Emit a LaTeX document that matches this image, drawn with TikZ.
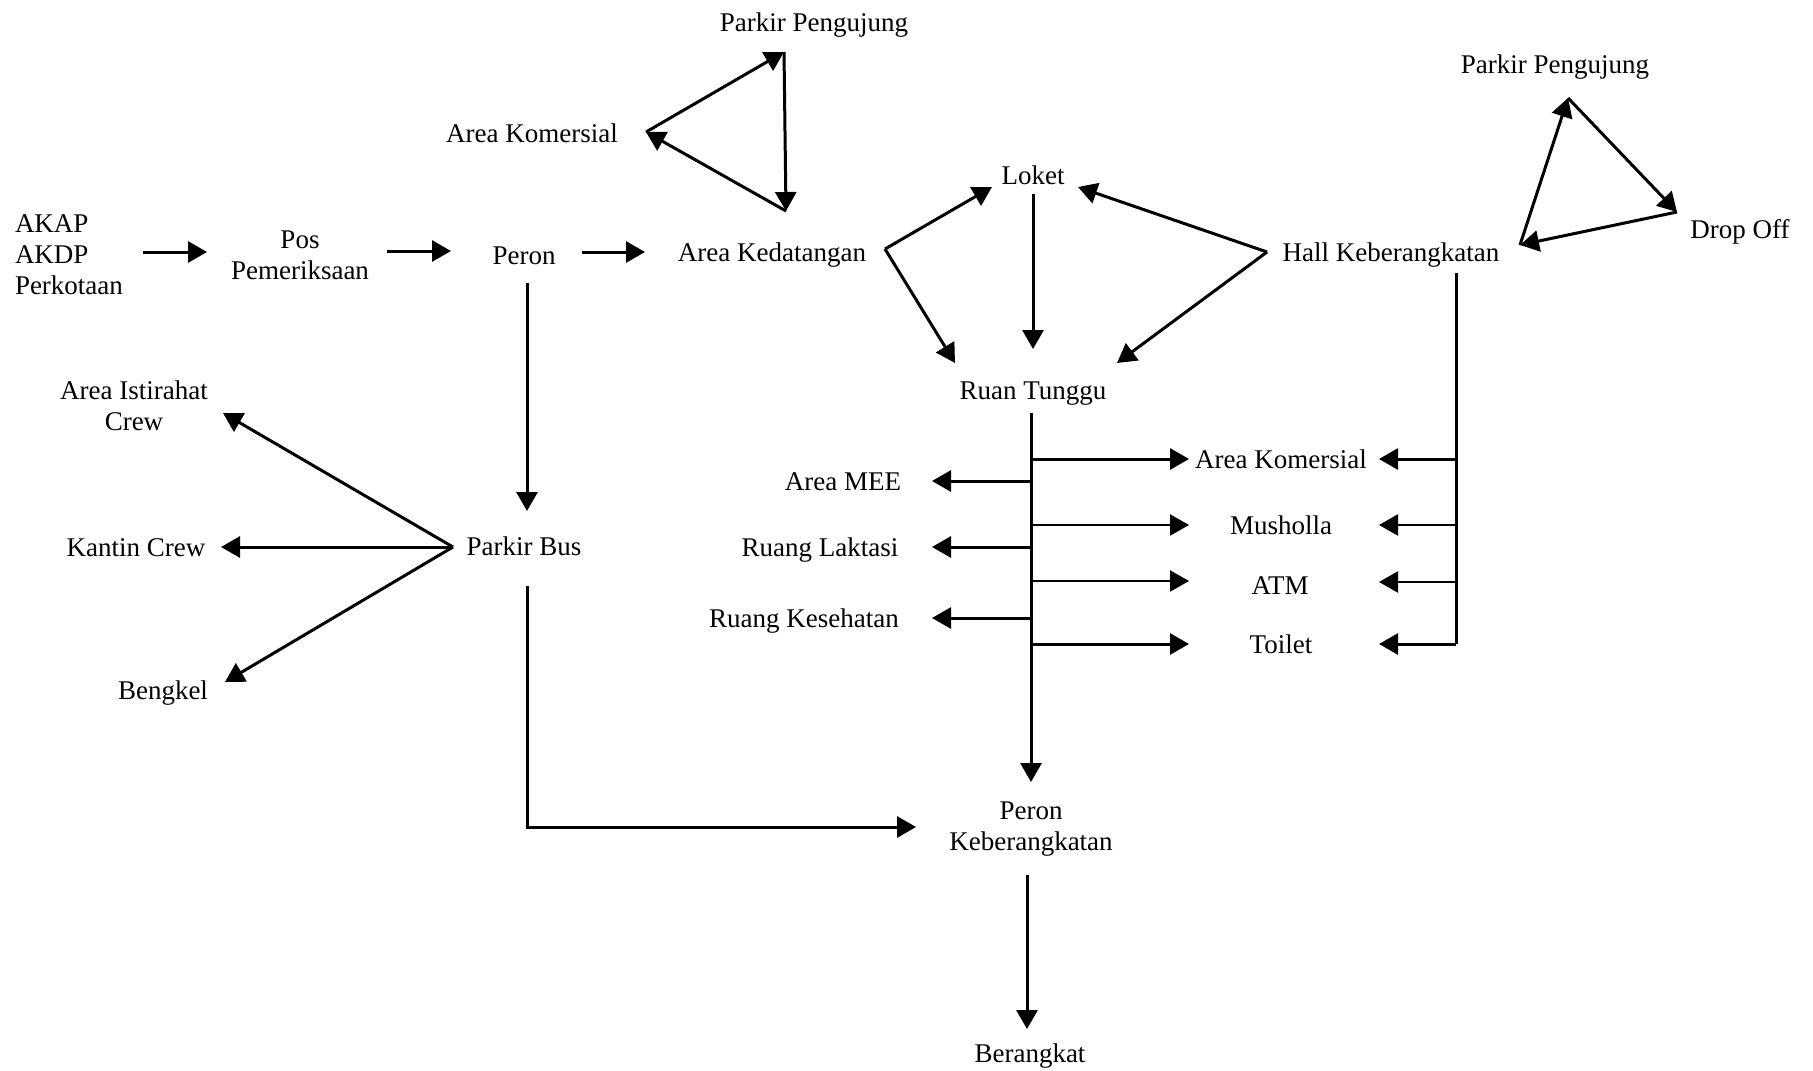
\documentclass[tikz,border=0pt]{standalone}
\usepackage{fontspec}
\setmainfont{Liberation Serif}
\usetikzlibrary{arrows.meta}
\begin{document}
\begin{tikzpicture}[x=1pt,y=-1pt,
  lbl/.style={inner sep=0pt,outer sep=0pt,align=center,
    font=\fontsize{27pt}{31pt}\selectfont},
  one/.style={lbl,text height=19pt,text depth=0pt},
  flow/.style={line width=3pt,-{Triangle[length=19pt,width=21pt]}},
  thinflow/.style={line width=2.3pt,-{Triangle[length=19pt,width=21pt]}},
  plain/.style={line width=3pt}]
\useasboundingbox (0,0) rectangle (1813,1071);

% ---- entry chain ----
\node[lbl,anchor=west,align=left] (akap) at (15,255) {AKAP\\AKDP\\Perkotaan};
\node[lbl] (pos) at (300,255) {Pos\\Pemeriksaan};
\node[one] (peron) at (524,255) {Peron};
\node[one] (kedatangan) at (772,252) {Area Kedatangan};
\node[one] (komA) at (532,133) {Area Komersial};
\node[one] (ppA) at (814,22) {Parkir Pengujung};

% ---- central hall ----
\node[one] (loket) at (1033,175) {Loket};
\node[one] (hall) at (1391,252) {Hall Keberangkatan};
\node[one] (ppB) at (1555,64) {Parkir Pengujung};
\node[one] (dropoff) at (1740,229) {Drop Off};
\node[one] (tunggu) at (1033,390) {Ruan Tunggu};

% ---- facilities ----
\node[one] (mee) at (843,481) {Area MEE};
\node[one] (laktasi) at (820,547) {Ruang Laktasi};
\node[one] (kesehatan) at (804,618) {Ruang Kesehatan};
\node[one] (komB) at (1281,459) {Area Komersial};
\node[one] (musholla) at (1281,525) {Musholla};
\node[one] (atm) at (1280,585) {ATM};
\node[one] (toilet) at (1281,644) {Toilet};

% ---- bus side ----
\node[lbl] (istirahat) at (134,406) {Area Istirahat\\Crew};
\node[one] (kantin) at (136,547) {Kantin Crew};
\node[one] (bengkel) at (163,690) {Bengkel};
\node[one] (bus) at (524,546) {Parkir Bus};
\node[lbl] (peronK) at (1031,829) {Peron\\Keberangkatan};
\node[one] (berangkat) at (1030,1053) {Berangkat};

% ---- junction points ----
\coordinate (j1) at ([shift={(113,-3)}]kedatangan.center);
\coordinate (j2) at ([shift={(-124,0)}]hall.center);
\coordinate (j3) at ([shift={(-71,1)}]bus.center);
\coordinate (tA) at ([shift={(-2,23)}]tunggu.center);
\coordinate (hA) at ([shift={(65,21)}]hall.center);
\coordinate (bA) at ([shift={(3,40)}]bus.center);
\coordinate (atmL) at ([shift={(-91,-4)}]atm.center);
\coordinate (atmR) at ([shift={(99,-3)}]atm.center);
\coordinate (triAL) at ([shift={(114,-1)}]komA.center);
\coordinate (triAT) at ([shift={(-30,30)}]ppA.center);
\coordinate (triAB) at ([shift={(14,-41)}]kedatangan.center);
\coordinate (triBT) at ([shift={(13,34)}]ppB.center);
\coordinate (triBR) at ([shift={(-63,-17)}]dropoff.center);
\coordinate (triBL) at ([shift={(129,-7)}]hall.center);

% ---- entry chain arrows ----
\draw[flow] ([shift={(128,-3)}]akap.west) -- ([shift={(-93,-3)}]pos.center);
\draw[flow] ([shift={(87,-4)}]pos.center) -- ([shift={(-73,-4)}]peron.center);
\draw[flow] ([shift={(58,-3)}]peron.center) -- ([shift={(-127,0)}]kedatangan.center);
\draw[flow] ([shift={(3,28)}]peron.center) -- ([shift={(3,-35)}]bus.center);

% ---- visitor parking loop (arrival side) ----
\draw[flow] (triAL) -- (triAT);
\draw[flow] (triAT) -- (triAB);
\draw[flow] (triAB) -- (triAL);

% ---- visitor parking loop (departure side) ----
\draw[flow] (triBL) -- (triBT);
\draw[flow] (triBT) -- (triBR);
\draw[flow] (triBR) -- (triBL);

% ---- to ticket counter and waiting room ----
\draw[flow] (j1) -- ([shift={(-41,12)}]loket.center);
\draw[flow] (j1) -- ([shift={(-78,-27)}]tunggu.center);
\draw[flow] ([shift={(0,19)}]loket.center) -- ([shift={(0,-41)}]tunggu.center);
\draw[flow] (j2) -- ([shift={(45,12)}]loket.center);
\draw[flow] (j2) -- ([shift={(84,-27)}]tunggu.center);

% ---- waiting room trunk ----
\draw[flow] (tA) -- ([shift={(0,-47)}]peronK.center);
\draw[flow] (tA |- komB) -- ([shift={(-92,0)}]komB.center);
\draw[thinflow] (tA |- musholla) -- ([shift={(-92,0)}]musholla.center);
\draw[thinflow] (tA |- atmL) -- (atmL);
\draw[flow] (tA |- toilet) -- ([shift={(-92,0)}]toilet.center);
\draw[flow] (tA |- mee) -- ([shift={(89,0)}]mee.center);
\draw[flow] (tA |- laktasi) -- ([shift={(112,0)}]laktasi.center);
\draw[flow] (tA |- kesehatan) -- ([shift={(128,0)}]kesehatan.center);

% ---- departure hall trunk ----
\draw[plain] (hA) -- (hA |- toilet);
\draw[flow] (hA |- komB) -- ([shift={(98,0)}]komB.center);
\draw[thinflow] (hA |- musholla) -- ([shift={(98,0)}]musholla.center);
\draw[thinflow] (hA |- atmR) -- (atmR);
\draw[flow] (hA |- toilet) -- ([shift={(98,0)}]toilet.center);

% ---- bus parking ----
\draw[flow] (j3) -- ([shift={(89,7)}]istirahat.center);
\draw[flow] (j3) -- ([shift={(85,0)}]kantin.center);
\draw[flow] (j3) -- ([shift={(62,-8)}]bengkel.center);
\draw[flow] (bA) |- ([shift={(-115,-2)}]peronK.center);
\draw[flow] ([shift={(-4,46)}]peronK.center) -- ([shift={(-3,-24)}]berangkat.center);
\end{tikzpicture}
\end{document}
